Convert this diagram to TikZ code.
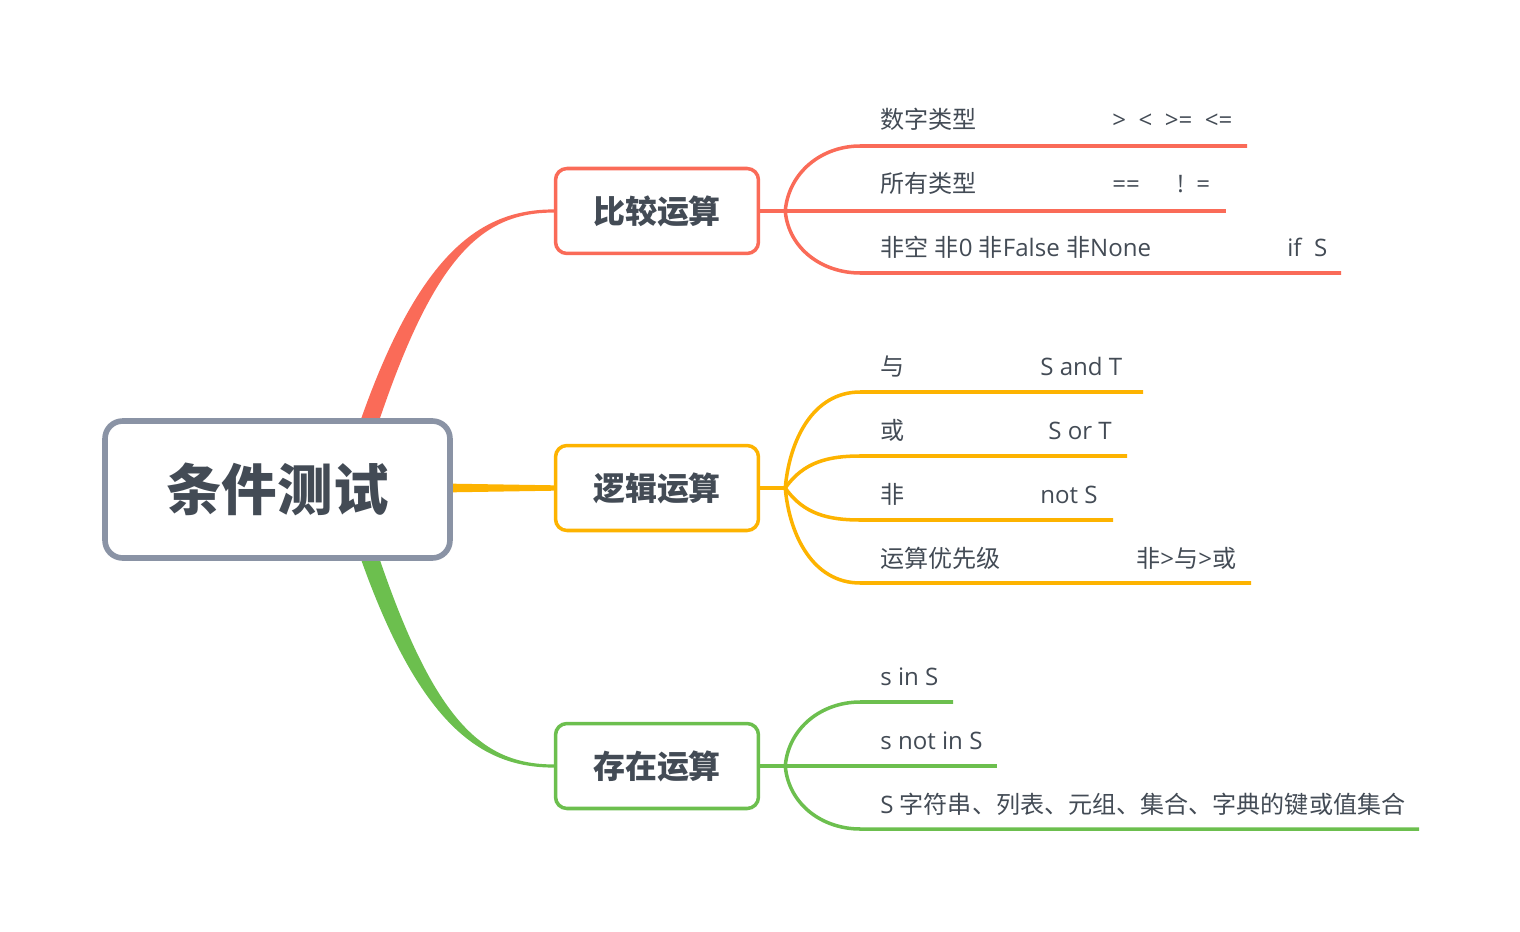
\documentclass[tikz,border=0pt]{standalone}
\usepackage{fontspec}
\setmainfont{Open Sans}
\newfontfamily\zh{Noto Sans CJK SC}
\usetikzlibrary{calc,backgrounds}

\definecolor{cred}{HTML}{FA6B58}
\definecolor{corange}{HTML}{FDB300}
\definecolor{cgreen}{HTML}{6CBF4E}
\definecolor{croot}{HTML}{8A93A5}
\definecolor{ink}{HTML}{434B55}

\tikzset{
  rootbox/.style={draw=croot,line width=3.2pt,rounded corners=10pt,fill=white,
    minimum width=6.9cm,minimum height=2.74cm,text=ink,
    font=\zh\bfseries\fontsize{31.6}{36}\selectfont},
  topic/.style={draw=#1,line width=2pt,rounded corners=6.5pt,fill=white,
    minimum width=4.06cm,minimum height=1.7cm,text=ink,
    font=\zh\bfseries\fontsize{18.2}{22}\selectfont},
  twig/.style={draw=#1,line width=2pt},
  item/.style={anchor=base west,inner sep=0pt,text=ink,
    font=\fontsize{13.7}{16}\selectfont},
}

\begin{document}
\begin{tikzpicture}[x=0.02cm,y=-0.02cm]
  \useasboundingbox (0,0) rectangle (1520,932);
  % root and the three topics
  \node[rootbox] (root) at (277.5,489.5) {条件测试};
  \node[topic=cred]    (cmp)   at (657,211) {比较运算};
  \node[topic=corange] (logic) at (657,488) {逻辑运算};
  \node[topic=cgreen]  (exist) at (657,766) {存在运算};

  % compare rows
  \node[item] (a1) at (880,129) {\zh 数字类型};
  \node[item] (b1) at (1112,129) {>~~<~~>=~~<=};
  \node[item] (a2) at (880,193) {\zh 所有类型};
  \node[item] (b2) at (1112,193) {==~~~~~~!~~=};
  \node[item] (a3) at (880,257) {{\zh 非空} {\zh 非}0 {\zh 非}False {\zh 非}None};
  \node[item] (b3) at (1287,257) {if~~S};
  % logic rows
  \node[item] (c1) at (880,375) {\zh 与};
  \node[item] (d1) at (1040,375) {S and T};
  \node[item] (c2) at (880,439) {\zh 或};
  \node[item] (d2) at (1048,439) {S or T};
  \node[item] (c3) at (880,503) {\zh 非};
  \node[item] (d3) at (1040,503) {not S};
  \node[item] (c4) at (880,567) {\zh 运算优先级};
  \node[item] (d4) at (1136,567) {{\zh 非}>{\zh 与}>{\zh 或}};
  % exist rows
  \node[item] (e1) at (880,685) {s in S};
  \node[item] (e2) at (880,749) {s not in S};
  \node[item] (e3) at (880,813) {S {\zh 字符串、列表、元组、集合、字典的键或值集合}};

  \begin{scope}[on background layer]
  % tapered main branches
  \fill[cred] ($(root.center)+(61,0)$) .. controls (406,258) and (475,209.5)
       .. ($(cmp.west)+(0,-1.6)$) -- ($(cmp.west)+(0,1.6)$)
       .. controls (475,212.5) and (424,264) .. ($(root.center)+(80,0)$) -- cycle;
  \fill[cgreen] ($(root.center)+(61,0)$) .. controls (406,719) and (475,767.5)
       .. ($(exist.west)+(0,1.6)$) -- ($(exist.west)+(0,-1.6)$)
       .. controls (475,764.5) and (424,713) .. ($(root.center)+(80,0)$) -- cycle;
  \fill[corange] ($(root.east)+(-12,-6)$) -- ($(logic.west)+(0,-2.7)$)
       -- ($(logic.west)+(0,2.7)$) -- ($(root.east)+(-12,3)$) -- cycle;

  % forks and underlines
  \coordinate (cf) at ($(cmp.east)+(25,0)$);
  \coordinate (lf) at ($(logic.east)+(25,0)$);
  \coordinate (ef) at ($(exist.east)+(25,0)$);
  \coordinate (cu1) at (1247,146);
  \coordinate (cu2) at (1226,211);
  \coordinate (cu3) at (1341,273);
  \coordinate (lu1) at (1143,392);
  \coordinate (lu2) at (1127,456);
  \coordinate (lu3) at (1113,520);
  \coordinate (lu4) at (1251,583);
  \coordinate (eu1) at (953,702);
  \coordinate (eu2) at (997,766);
  \coordinate (eu3) at (1419,829);

  \draw[twig=cred] (cmp.east) -- (cf);
  \foreach \i/\o in {1/85,2/0,3/-85}
    \draw[twig=cred] (cf) to[out=\o,in=180] ($(cf |- cu\i)+(75,0)$) -- (cu\i);
  \draw[twig=corange] (logic.east) -- (lf);
  \foreach \i/\o in {1/85,2/55,3/-55,4/-85}
    \draw[twig=corange] (lf) to[out=\o,in=180] ($(lf |- lu\i)+(75,0)$) -- (lu\i);
  \draw[twig=cgreen] (exist.east) -- (ef);
  \foreach \i/\o in {1/85,2/0,3/-85}
    \draw[twig=cgreen] (ef) to[out=\o,in=180] ($(ef |- eu\i)+(75,0)$) -- (eu\i);
  \end{scope}
\end{tikzpicture}
\end{document}
